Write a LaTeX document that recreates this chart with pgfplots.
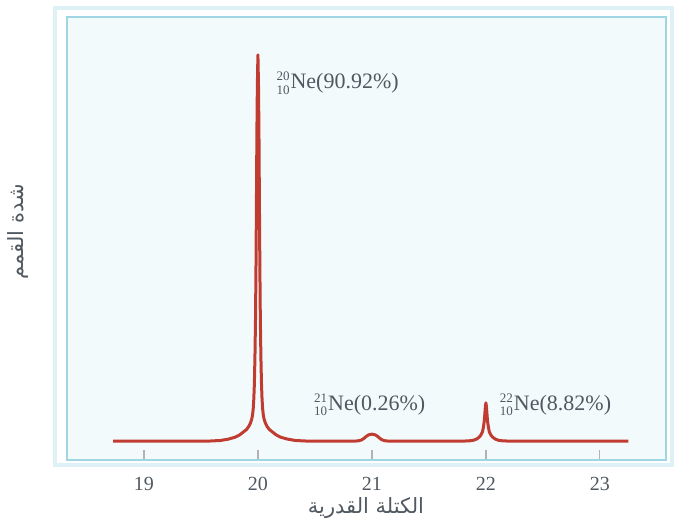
\documentclass[border=0pt]{standalone}
\usepackage{amsmath}
\usepackage{pgfplots}
\pgfplotsset{compat=1.18}
\usepackage{fontspec}
\setmainfont{Liberation Serif}
\newfontfamily\arabicfont[Script=Arabic]{DejaVu Sans}
\TeXXeTstate=1
\definecolor{curve}{RGB}{192,60,48}
\definecolor{frame}{RGB}{160,214,228}
\definecolor{panel}{RGB}{243,250,252}
\definecolor{txt}{RGB}{80,88,96}
\newcommand\sm[1]{\text{\fontsize{6.5}{7}\selectfont #1}}
\newcommand\iso[3]{${}^{\sm{#1}}_{\sm{#2}}$#3}

\pgfplotstableread{
x y
18.73 0
19.57 0
19.67 0.15
19.74 0.5
19.80 1.0
19.84 1.6
19.87 2.3
19.90 3.0
19.92 3.8
19.935 4.7
19.945 5.6
19.953 6.8
19.959 8.5
19.964 11
19.969 15
19.974 22
19.979 32
19.983 45
19.987 62
19.991 80
19.995 92
20.000 100
20.005 92
20.009 80
20.013 62
20.017 45
20.021 32
20.026 22
20.031 15
20.036 11
20.041 8.5
20.047 6.8
20.055 5.6
20.065 4.7
20.08 3.8
20.10 3.0
20.13 2.3
20.16 1.6
20.20 1.0
20.26 0.5
20.33 0.15
20.43 0
20.85 0
20.88 0.05
20.91 0.3
20.93 0.7
20.95 1.2
20.97 1.6
21.00 1.8
21.03 1.6
21.05 1.2
21.07 0.7
21.09 0.3
21.12 0.05
21.15 0
21.80 0
21.85 0.05
21.89 0.2
21.92 0.55
21.94 1.0
21.955 1.5
21.97 2.4
21.978 3.6
21.985 5.0
21.99 6.8
21.995 8.8
22.000 9.9
22.005 8.8
22.010 6.8
22.015 5.0
22.022 3.6
22.030 2.4
22.045 1.5
22.06 1.0
22.08 0.55
22.11 0.2
22.15 0.05
22.20 0
23.25 0
}\spectrum

\begin{document}
\begin{tikzpicture}
\path[use as bounding box] (-33.5pt,-32.5pt) rectangle (304.5pt,230pt);
\draw[frame!35, line width=2pt] (-6pt,-2.5pt) rectangle (302.5pt,226pt);
\begin{axis}[
  scale only axis, width=299.5pt, height=221.5pt,
  xmin=18.325, xmax=23.58, ymin=-4.9, ymax=109.8,
  axis background/.style={fill=panel},
  axis line style={draw=frame, line width=1pt},
  xtick={19,20,21,22,23}, ytick=\empty,
  xtick pos=bottom, xtick align=inside,
  major tick length=5pt,
  tick style={draw=black!30, line width=0.6pt},
  xticklabel style={font=\fontsize{10}{12}\selectfont, text=txt, yshift=-5pt},
  /pgf/number format/assume math mode=true,
  clip=false,
]
\addplot[curve, line width=1.5pt, line join=round] table[x=x,y=y] {\spectrum};
\node[anchor=base west, inner sep=0, text=txt, font=\fontsize{11}{13}\selectfont] at (axis cs:20.16,91.2) {\iso{20}{10}{Ne(90.92\%)}};
\node[anchor=base west, inner sep=0, text=txt, font=\fontsize{11}{13}\selectfont] at (axis cs:20.49,8.0) {\iso{21}{10}{Ne(0.26\%)}};
\node[anchor=base west, inner sep=0, text=txt, font=\fontsize{11}{13}\selectfont] at (axis cs:22.12,8.0) {\iso{22}{10}{Ne(8.82\%)}};
\end{axis}
\node[text=txt, font=\arabicfont\fontsize{10.5}{12}\selectfont] at (149.5pt,-24pt) {\beginR الكتلة القدرية\endR};
\node[text=txt, rotate=90, font=\arabicfont\fontsize{10.5}{12}\selectfont] at (-24.5pt,114pt) {\beginR شدة القمم\endR};
\end{tikzpicture}
\end{document}
